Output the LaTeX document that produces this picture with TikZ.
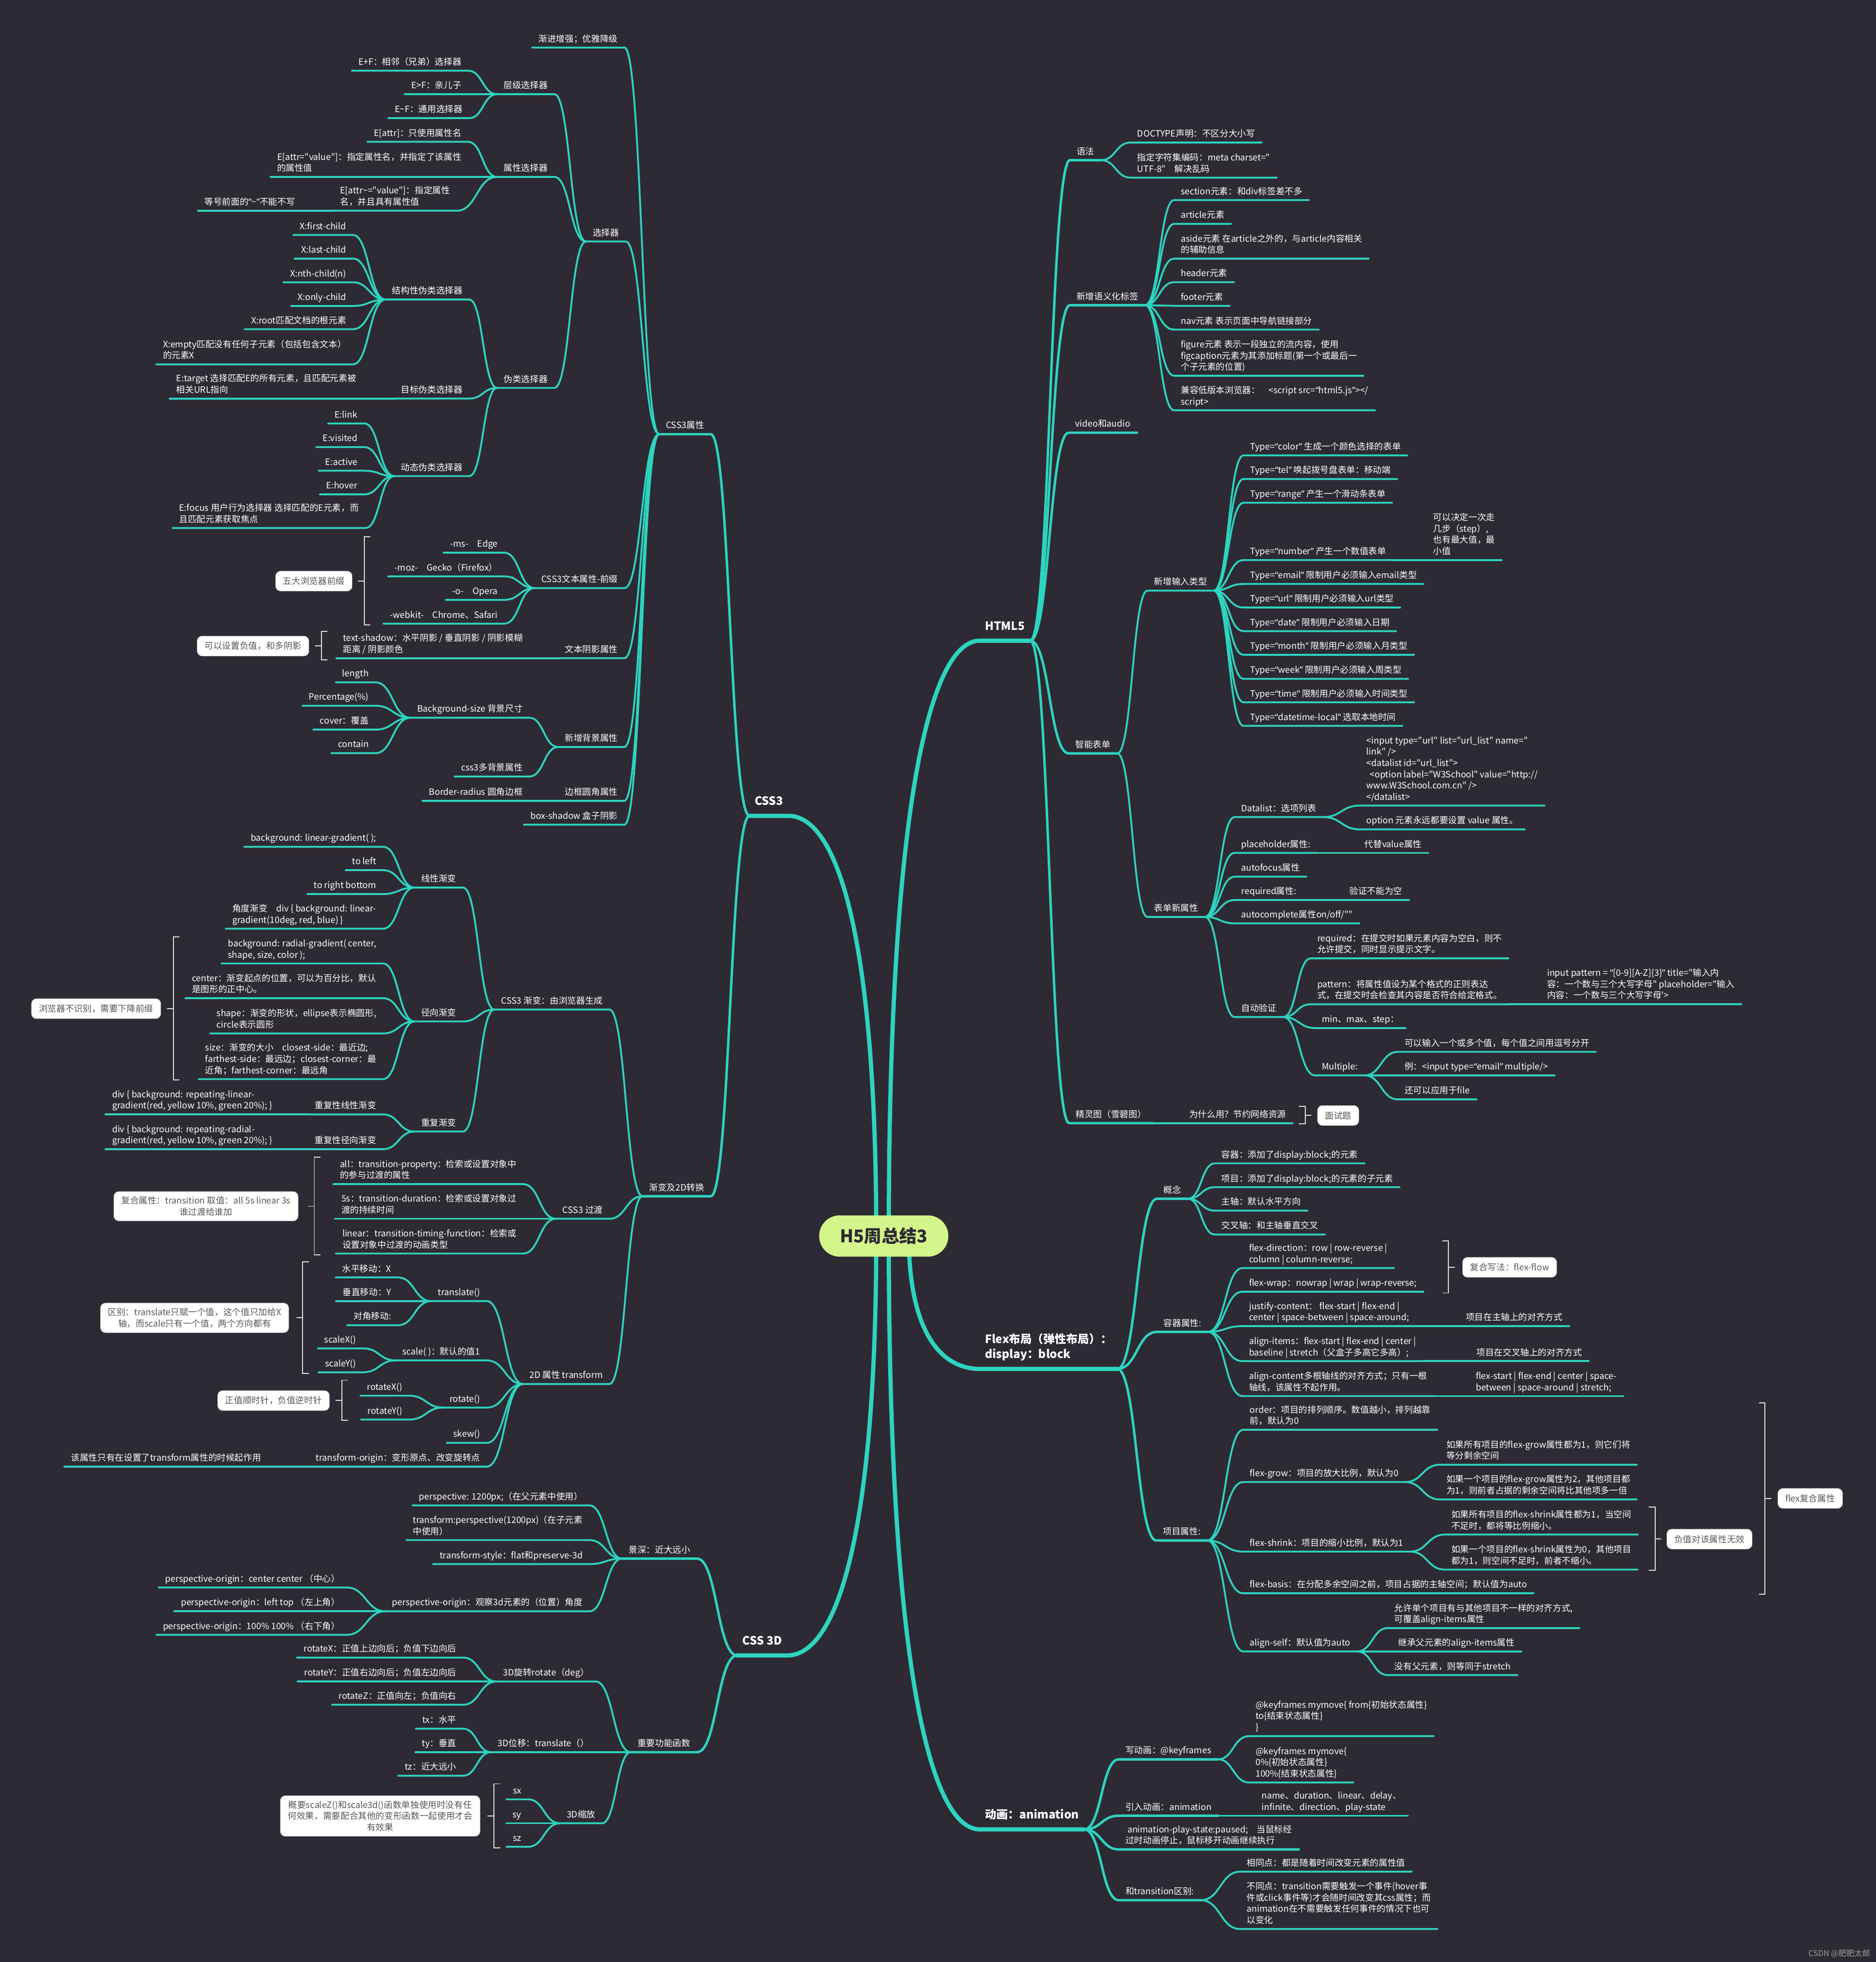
\documentclass[tikz,border=0pt]{standalone}
\usepackage{fontspec}
\setmainfont{Noto Sans CJK SC}
\newfontfamily\mapfont{Noto Sans CJK SC}
\newfontfamily\quotefont{Noto Sans}
\newcommand{\oq}{{\quotefont “}}
\newcommand{\cq}{{\quotefont ”}}
\usepackage{tikz}
\usetikzlibrary{calc}
\definecolor{mapBg}{HTML}{2E2A33}
\definecolor{mapTeal}{HTML}{2DD4BF}
\definecolor{rootFill}{HTML}{D3F58A}
\definecolor{noteText}{HTML}{555555}
\pgfdeclarelayer{bg}
\pgfsetlayers{bg,main}
\tikzset{
  trunk/.style={draw=mapTeal, line width=4.8pt, line cap=round, line join=round},
  bough/.style={draw=mapTeal, line width=2.8pt, line cap=round, line join=round},
  twig/.style={draw=mapTeal, line width=2.1pt, line cap=round, line join=round},
  fan/.style={to path={.. controls ($(\tikztostart)!0.5!(\tikztostart-|\tikztotarget)$) and ($(\tikztotarget)!0.5!(\tikztotarget-|\tikztostart)$) .. (\tikztotarget)}},
  mainfan/.style={to path={.. controls ($(\tikztostart)!0.72!(\tikztostart|-\tikztotarget)$) and ($(\tikztotarget)!0.55!(\tikztotarget-|\tikztostart)$) .. (\tikztotarget)}},
  leaf/.style={text=white, font=\mapfont\fontsize{10}{12.8}\selectfont, align=left, inner xsep=0.26cm, inner ysep=4.7pt, text depth=1.5pt},
  lside/.style={leaf, anchor=south east},
  rside/.style={leaf, anchor=south west},
  topic/.style={text=white, font=\mapfont\fontsize{13}{17}\selectfont\bfseries, align=left, inner xsep=0.2cm, inner ysep=10.5pt, text depth=1.5pt},
  root/.style={fill=rootFill, rounded corners=0.82cm, minimum width=5.16cm, minimum height=1.65cm, text=mapBg, font=\mapfont\fontsize{20}{24}\selectfont\bfseries},
  note/.style={fill=white, draw=gray!60, rounded corners=0.2cm, text=noteText, font=\mapfont\fontsize{10}{12.8}\selectfont, align=center, inner xsep=0.3cm, inner ysep=0.2cm, minimum height=0.8cm},
  brace/.style={draw=white!88!black, line width=1.1pt}
}

\begin{document}
\begin{tikzpicture}[x=0.05cm,y=-0.05cm]
  \useasboundingbox (0,0) rectangle (1499,1568);
  \begin{pgfonlayer}{bg}
    \fill[mapBg] (0,0) rectangle (1499,1568);
  \end{pgfonlayer}

  \node[root] (h5) at (706.2,987.8) {H5周总结3};
  \coordinate (o1) at ($(h5.center)+(-6,0)$);
  \coordinate (o2) at ($(h5.center)+(4,0)$);
  \coordinate (o3) at ($(h5.center)+(20,0)$);

  \node[topic, anchor=south east] (css3) at (630,652) {CSS3};
  \node[topic, anchor=south east] (css3d) at (629,1323) {CSS 3D};
  \node[topic, anchor=south west] (html5) at (783,512) {HTML5};
  \node[topic, anchor=south west] (flex) at (783,1094) {Flex布局（弹性布局）：\\display：block};
  \node[topic, anchor=south west] (anim) at (783,1462) {动画：animation};

  \node[lside] (attr) at (568,347) {CSS3属性};
  \node[lside] (grad2d) at (568,956) {渐变及2D转换};
  \node[lside] (jianjin) at (499,38) {渐进增强；优雅降级};
  \node[lside] (sel) at (500,193) {选择器};
  \node[lside] (prefix) at (499,470) {CSS3文本属性-前缀};
  \node[lside] (tshadow) at (499,526) {文本阴影属性};
  \node[lside] (bgnew) at (499,597) {新增背景属性};
  \node[lside] (radius) at (499,640) {边框圆角属性};
  \node[lside] (boxsh) at (499,659) {box-shadow 盒子阴影};

  \node[lside] (level) at (443,75.3) {层级选择器};
  \node[lside] (attrsel) at (443,141.4) {属性选择器};
  \node[lside] (pseudo) at (443,310) {伪类选择器};
  \node[lside] (ef1) at (374,56.5) {E+F：相邻（兄弟）选择器};
  \node[lside] (ef2) at (374,75.3) {E>F：亲儿子};
  \node[lside] (ef3) at (375,94.4) {E\textasciitilde F：通用选择器};
  \node[lside] (at1) at (374,113.3) {E[attr]：只使用属性名};
  \node[lside] (at2) at (374,141.4) {E[attr="value"]：指定属性名，并指定了该属性\\的属性值};
  \node[lside] (at3) at (365,168.4) {E[attr\textasciitilde="value"]：指定属性\\名，并且具有属性值};
  \node[lside] (at3n) at (241,168.4) {等号前面的\oq\textasciitilde\cq 不能不写};
  \node[lside] (struct) at (375,239.4) {结构性伪类选择器};
  \node[lside] (target) at (375,318.5) {目标伪类选择器};
  \node[lside] (dyn) at (375,380.5) {动态伪类选择器};
  \foreach \i/\y/\t in {1/187.8/{X:first-child},2/206.7/{X:last-child},3/225.6/{X:nth-child(n)},4/244.5/{X:only-child},5/263.1/{X:root匹配文档的根元素}}
    \node[lside] (x\i) at (282,\y) {\t};
  \node[lside] (x6) at (282,291.2) {X:empty匹配没有任何子元素（包括包含文本）\\的元素X};
  \node[lside] (tgtn) at (290,318.5) {E:target 选择匹配E的所有元素，且匹配元素被\\相关URL指向};
  \foreach \i/\y/\t in {1/338.4/{E:link},2/357.3/{E:visited},3/376.2/{E:active},4/395.1/{E:hover}}
    \node[lside] (e\i) at (291,\y) {\t};
  \node[lside] (e5) at (292,422) {E:focus 用户行为选择器 选择匹配的E元素，而\\且匹配元素获取焦点};

  \node[lside] (p1) at (403,441.7) {-ms-\quad Edge};
  \node[lside] (p2) at (403,460.6) {-moz-\quad Gecko（Firefox）};
  \node[lside] (p3) at (403,479.4) {-o-\quad Opera};
  \node[lside] (p4) at (403,498.4) {-webkit-\quad Chrome、Safari};
  \node[lside] (tsn) at (423,526) {text-shadow：水平阴影 / 垂直阴影 / 阴影模糊\\距离 / 阴影颜色};
  \node[lside] (bgsize) at (423,573.6) {Background-size 背景尺寸};
  \node[lside] (multibg) at (423,620.6) {css3多背景属性};
  \node[lside] (len) at (300,545.3) {length};
  \node[lside] (pct) at (300,564) {Percentage(\%)};
  \node[lside] (cover) at (300,583.1) {cover：覆盖};
  \node[lside] (contain) at (300,601.9) {contain};
  \node[lside] (radn) at (423,640) {Border-radius 圆角边框};

  \node[lside] (grad) at (487,806.8) {CSS3 渐变：由浏览器生成};
  \node[lside] (trans) at (487,974) {CSS3 过渡};
  \node[lside] (t2d) at (487,1106.1) {2D 属性 transform};
  \node[lside] (lin) at (370,709.3) {线性渐变};
  \node[lside] (rad) at (370,816.3) {径向渐变};
  \node[lside] (rep) at (370,904.3) {重复渐变};
  \node[lside] (lg1) at (306,676.7) {background: linear-gradient( );};
  \node[lside] (lg2) at (306,695.4) {to left};
  \node[lside] (lg3) at (306,714.5) {to right bottom};
  \node[lside] (lg4) at (306,742.2) {角度渐变\quad div \{ background: linear-\\gradient(10deg, red, blue) \}};
  \node[lside] (rg1) at (306,770) {background: radial-gradient( center,\\shape, size, color );};
  \node[lside] (rg2) at (306,797.7) {center：渐变起点的位置，可以为百分比，默认\\是图形的正中心。};
  \node[lside] (rg3) at (306,825.9) {shape：渐变的形状，ellipse表示椭圆形,\\circle表示圆形};
  \node[lside] (rg4) at (306,862.4) {size：渐变的大小\quad closest-side：最近边;\\farthest-side：最远边；closest-corner：最\\近角；farthest-corner：最远角};
  \node[lside] (rep1) at (306,890.6) {重复性线性渐变};
  \node[lside] (rep1n) at (223,890.6) {div \{ background: repeating-linear-\\gradient(red, yellow 10\%, green 20\%); \}};
  \node[lside] (rep2) at (306,918.4) {重复性径向渐变};
  \node[lside] (rep2n) at (223,918.4) {div \{ background: repeating-radial-\\gradient(red, yellow 10\%, green 20\%); \}};
  \node[lside] (gd1) at (418,946.3) {all：transition-property：检索或设置对象中\\的参与过渡的属性};
  \node[lside] (gd2) at (418,974) {5s：transition-duration：检索或设置对象过\\渡的持续时间};
  \node[lside] (gd3) at (418,1001.8) {linear：transition-timing-function：检索或\\设置对象中过渡的动画类型};
  \node[lside] (tr) at (389,1039.8) {translate()};
  \node[lside] (tr1) at (318,1020.9) {水平移动：X};
  \node[lside] (tr2) at (318,1039.8) {垂直移动：Y};
  \node[lside] (tr3) at (318,1059.1) {对角移动:};
  \node[lside] (sc) at (389,1087.2) {scale( )：默认的值1};
  \node[lside] (sc1) at (290,1077.6) {scaleX()};
  \node[lside] (sc2) at (290,1096.7) {scaleY()};
  \node[lside] (ro) at (389,1124.9) {rotate()};
  \node[lside] (ro1) at (327,1115.4) {rotateX()};
  \node[lside] (ro2) at (327,1134.5) {rotateY()};
  \node[lside] (sk) at (389,1153.1) {skew()};
  \node[lside] (tor) at (389,1172.1) {transform-origin：变形原点、改变旋转点};
  \node[lside] (torn) at (214,1172.1) {该属性只有在设置了transform属性的时候起作用};

  \node[lside] (jsh) at (557,1245.6) {景深：近大远小};
  \node[lside] (imp) at (557,1400.3) {重要功能函数};
  \node[lside] (js1) at (471,1203.1) {perspective: 1200px;（在父元素中使用）};
  \node[lside] (js2) at (471,1230.8) {transform:perspective(1200px)（在子元素\\中使用）};
  \node[lside] (js3) at (471,1250) {transform-style：flat和preserve-3d};
  \node[lside] (js4) at (471,1287.7) {perspective-origin：观察3d元素的（位置）角度};
  \node[lside] (po1) at (277,1268.7) {perspective-origin：center center （中心）};
  \node[lside] (po2) at (277,1287.7) {perspective-origin：left top （左上角）};
  \node[lside] (po3) at (277,1306.5) {perspective-origin：100\% 100\% （右下角）};
  \node[lside] (rot3) at (476,1343.8) {3D旋转rotate（deg）};
  \node[lside] (rt1) at (370,1324.7) {rotateX：正值上边向后；负值下边向后};
  \node[lside] (rt2) at (370,1343.8) {rotateY：正值右边向后；负值左边向后};
  \node[lside] (rt3) at (370,1362.4) {rotateZ：正值向左；负值向右};
  \node[lside] (mov3) at (476,1400.3) {3D位移：translate（）};
  \node[lside] (t1) at (370,1381.5) {tx：水平};
  \node[lside] (t2) at (370,1400.3) {ty：垂直};
  \node[lside] (t3) at (370,1419.1) {tz：近大远小};
  \node[lside] (scl3) at (481,1457.1) {3D缩放};
  \node[lside] (s1) at (422,1438) {sx};
  \node[lside] (s2) at (422,1457.1) {sy};
  \node[lside] (s3) at (422,1475.9) {sz};

  \node[rside] (gram) at (855,128) {语法};
  \node[rside] (gram1) at (903.5,113.9) {DOCTYPE声明：不区分大小写};
  \node[rside] (gram2) at (903.5,142) {指定字符集编码：meta charset="\\UTF-8"\quad 解决乱码};
  \node[rside] (sem) at (855,243.9) {新增语义化标签};
  \node[rside] (sem1) at (938.3,159.9) {section元素：和div标签差不多};
  \node[rside] (sem2) at (938.3,178.9) {article元素};
  \node[rside] (sem3) at (938.3,206.7) {aside元素 在article之外的，与article内容相关\\的辅助信息};
  \node[rside] (sem4) at (938.3,225.5) {header元素};
  \node[rside] (sem5) at (938.3,244.4) {footer元素};
  \node[rside] (sem6) at (938.3,263.4) {nav元素 表示页面中导航链接部分};
  \node[rside] (sem7) at (938.3,300.3) {figure元素 表示一段独立的流内容，使用\\figcaption元素为其添加标题(第一个或最后一\\个子元素的位置)};
  \node[rside] (sem8) at (938.3,327.9) {兼容低版本浏览器：\quad <script src=\oq html5.js\cq></\\script>};
  \node[rside] (media) at (854,345.8) {video和audio};
  \node[rside] (smart) at (854,602.1) {智能表单};
  \node[rside] (sprite) at (854.4,897.6) {精灵图（雪碧图）};
  \node[rside] (spriten) at (945,897.6) {为什么用？节约网络资源};

  \node[rside] (inp) at (917,472) {新增输入类型};
  \foreach \i/\y/\t/\d in {1/363.9/color/{生成一个颜色选择的表单},2/382.8/tel/{唤起拨号盘表单：移动端},3/401.8/range/{产生一个滑动条表单},4/447.6/number/{产生一个数值表单},5/466.7/email/{限制用户必须输入email类型},6/485.5/url/{限制用户必须输入url类型},7/504.4/date/{限制用户必须输入日期},8/523.3/month/{限制用户必须输入月类型},9/542.5/week/{限制用户必须输入周类型},10/561.3/time/{限制用户必须输入时间类型},11/580.1/datetime-local/{选取本地时间}}
    \node[rside] (ty\i) at (993.7,\y) {Type=\oq\t\cq\ \d};
  \node[rside] (ty4n) at (1140,447.6) {可以决定一次走\\几步（step）,\\也有最大值，最\\小值};

  \node[rside] (fnew) at (917,732.8) {表单新属性};
  \node[rside] (dl) at (986.6,653) {Datalist：选项列表};
  \node[rside] (dl1) at (1086.6,643.8) {<input type="url" list="url\_list" name="\\link" />\\<datalist id="url\_list">\\\hspace*{0.4em}<option label="W3School" value="http://\\www.W3School.com.cn" />\\</datalist>};
  \node[rside] (dl2) at (1086.6,662.8) {option 元素永远都要设置 value 属性。};
  \node[rside] (ph) at (986.6,681.6) {placeholder属性:};
  \node[rside] (phn) at (1085,681.6) {代替value属性};
  \node[rside] (afc) at (986.6,700.6) {autofocus属性};
  \node[rside] (req) at (986.6,719.3) {required属性:};
  \node[rside] (reqn) at (1073,719.3) {验证不能为空};
  \node[rside] (acpl) at (986.6,737.9) {autocomplete属性on/off/""};
  \node[rside] (autov) at (986.6,812.8) {自动验证};
  \node[rside] (av1) at (1047.3,765.9) {required：在提交时如果元素内容为空白，则不\\允许提交，同时显示提示文字。};
  \node[rside] (av2) at (1047.3,802.6) {pattern：将属性值设为某个格式的正则表达\\式，在提交时会检查其内容是否符合给定格式。};
  \node[rside] (av2n) at (1231,802.6) {input pattern = \oq[0-9][A-Z]\{3\}\cq\ title="输入内\\容：一个数与三个大写字母" placeholder="输入\\内容：一个数与三个大写字母'>};
  \node[rside] (av3) at (1050.9,821.6) {min、max、step：};
  \node[rside] (av4) at (1050.9,859.4) {Multiple:};
  \node[rside] (mu1) at (1117,840.6) {可以输入一个或多个值，每个值之间用逗号分开};
  \node[rside] (mu2) at (1117,859.4) {例：<input type=\oq email\cq\ multiple/>};
  \node[rside] (mu3) at (1117,878.6) {还可以应用于file};

  \node[rside] (cpt) at (924.5,958) {概念};
  \node[rside] (cpt1) at (970.8,929.7) {容器：添加了display:block;的元素};
  \node[rside] (cpt2) at (970.8,948.8) {项目：添加了display:block;的元素的子元素};
  \node[rside] (cpt3) at (970.8,967.5) {主轴：默认水平方向};
  \node[rside] (cpt4) at (970.8,986.6) {交叉轴：和主轴垂直交叉};
  \node[rside] (cprop) at (924.5,1064.4) {容器属性:};
  \node[rside] (fd) at (992.8,1013.4) {flex-direction：row | row-reverse |\\column | column-reverse;};
  \node[rside] (fw) at (992.8,1032.3) {flex-wrap：nowrap | wrap | wrap-reverse;};
  \node[rside] (jc) at (992.8,1059.8) {justify-content：\ flex-start | flex-end |\\center | space-between | space-around;};
  \node[rside] (jcn) at (1166,1059.8) {项目在主轴上的对齐方式};
  \node[rside] (ai) at (992.8,1087.8) {align-items：flex-start | flex-end | center |\\baseline | stretch（父盒子多高它多高）;};
  \node[rside] (ain) at (1174.5,1087.8) {项目在交叉轴上的对齐方式};
  \node[rside] (acnt) at (992.8,1115.7) {align-content多根轴线的对齐方式；只有一根\\轴线，该属性不起作用。};
  \node[rside] (acntn) at (1174,1115.7) {flex-start | flex-end | center | space-\\between | space-around | stretch;};
  \node[rside] (iprop) at (924,1231.1) {项目属性:};
  \node[rside] (od) at (993.5,1142.6) {order：项目的排列顺序。数值越小，排列越靠\\前，默认为0};
  \node[rside] (fg) at (993.5,1184.4) {flex-grow：项目的放大比例，默认为0};
  \node[rside] (fg1) at (1150.5,1170.6) {如果所有项目的flex-grow属性都为1，则它们将\\等分剩余空间};
  \node[rside] (fg2) at (1150.5,1198.3) {如果一个项目的flex-grow属性为2，其他项目都\\为1，则前者占据的剩余空间将比其他项多一倍};
  \node[rside] (fs) at (993.5,1240) {flex-shrink：项目的缩小比例，默认为1};
  \node[rside] (fs1) at (1154.5,1226.4) {如果所有项目的flex-shrink属性都为1，当空间\\不足时，都将等比例缩小。};
  \node[rside] (fs2) at (1154.5,1254.4) {如果一个项目的flex-shrink属性为0，其他项目\\都为1，则空间不足时，前者不缩小。};
  \node[rside] (fb) at (993.5,1273.3) {flex-basis：在分配多余空间之前，项目占据的主轴空间；默认值为auto};
  \node[rside] (aself) at (993.5,1319.8) {align-self：默认值为auto};
  \node[rside] (as1) at (1109,1301.1) {允许单个项目有与其他项目不一样的对齐方式,\\可覆盖align-items属性};
  \node[rside] (as2) at (1112,1319.8) {继承父元素的align-items属性};
  \node[rside] (as3) at (1109,1338.7) {没有父元素，则等同于stretch};

  \node[rside] (kfw) at (894,1406) {写动画：@keyframes};
  \node[rside] (kf1) at (998,1387.5) {@keyframes mymove\{ from\{初始状态属性\}\\to\{结束状态属性\}\\\}};
  \node[rside] (kf2) at (998,1424.5) {@keyframes mymove\{\\0\%\{初始状态属性\}\\100\%\{结束状态属性\}};
  \node[rside] (intro) at (894,1451.1) {引入动画：animation};
  \node[rside] (intron) at (1003,1451.1) {name、duration、linear、delay、\\infinite、direction、play-state};
  \node[rside] (pause) at (894,1478) {\ animation-play-state:paused;\quad 当鼠标经\\过时动画停止，鼠标移开动画继续执行};
  \node[rside] (diff) at (894,1518.6) {和transition区别:};
  \node[rside] (diff1) at (991,1495.8) {相同点：都是随着时间改变元素的属性值};
  \node[rside] (diff2) at (991,1541.6) {不同点：transition需要触发一个事件(hover事\\件或click事件等)才会随时间改变其css属性；而\\animation在不需要触发任何事件的情况下也可\\以变化};

  \node[note] (n1) at (250.8,464.4) {五大浏览器前缀};
  \node[note] (n2) at (202.2,516.3) {可以设置负值，和多阴影};
  \node[note] (n3) at (76.8,806.1) {浏览器不识别，需要下降前缀};
  \node[note] (n4) at (164.6,964) {复合属性：transition 取值：all 5s linear 3s\\谁过渡给谁加};
  \node[note] (n5) at (155.5,1053.2) {区别：translate只赋一个值，这个值只加给X\\轴，而scale只有一个值，两个方向都有};
  \node[note] (n6) at (218.6,1119.3) {正值顺时针，负值逆时针};
  \node[note] (n7) at (303.8,1451.3) {概要scaleZ()和scale3d()函数单独使用时没有任\\何效果，需要配合其他的变形函数一起使用才会\\有效果};
  \node[note] (n8) at (1069.3,891.5) {面试题};
  \node[note] (n9) at (1206.3,1012.8) {复合写法：flex-flow};
  \node[note] (n10) at (1366,1230) {负值对该属性无效};
  \node[note] (n11) at (1446.5,1197.5) {flex复合属性};
  \node[anchor=south east, text=gray!75, font=\mapfont\fontsize{9}{10}\selectfont, inner sep=2pt] (mark) at (1496,1566) {CSDN @肥肥太郎};

  \begin{pgfonlayer}{bg}
    \foreach \s/\t in {o1/css3,o1/css3d}
      \draw[trunk] (\s) to[mainfan] (\t.south east) -- (\t.south west);
    \foreach \s/\t in {o2/html5,o3/flex,o2/anim}
      \draw[trunk] (\s) to[mainfan] (\t.south west) -- (\t.south east);
  \end{pgfonlayer}

  \foreach \p/\c in {css3/attr,css3/grad2d,css3d/jsh,css3d/imp}
    \draw[bough] (\p.south west) to[fan] (\c.south east) -- (\c.south west);
  \foreach \p/\c in {html5/gram,html5/sem,html5/media,html5/smart,html5/sprite,flex/cpt,flex/cprop,flex/iprop,anim/kfw,anim/intro,anim/pause,anim/diff}
    \draw[bough] (\p.south east) to[fan] (\c.south west) -- (\c.south east);

  \foreach \p/\cs in {attr/{jianjin,sel,prefix,tshadow,bgnew,radius,boxsh},sel/{level,attrsel,pseudo},level/{ef1,ef2,ef3},attrsel/{at1,at2,at3},at3/{at3n},pseudo/{struct,target,dyn},struct/{x1,x2,x3,x4,x5,x6},target/{tgtn},dyn/{e1,e2,e3,e4,e5},prefix/{p1,p2,p3,p4},tshadow/{tsn},bgnew/{bgsize,multibg},bgsize/{len,pct,cover,contain},radius/{radn},grad2d/{grad,trans,t2d},grad/{lin,rad,rep},lin/{lg1,lg2,lg3,lg4},rad/{rg1,rg2,rg3,rg4},rep/{rep1,rep2},rep1/{rep1n},rep2/{rep2n},trans/{gd1,gd2,gd3},t2d/{tr,sc,ro,sk,tor},tr/{tr1,tr2,tr3},sc/{sc1,sc2},ro/{ro1,ro2},tor/{torn},jsh/{js1,js2,js3,js4},js4/{po1,po2,po3},imp/{rot3,mov3,scl3},rot3/{rt1,rt2,rt3},mov3/{t1,t2,t3},scl3/{s1,s2,s3}}
    \foreach \c in \cs
      \draw[twig] (\p.south west) to[fan] (\c.south east) -- (\c.south west);

  \foreach \p/\cs in {gram/{gram1,gram2},sem/{sem1,sem2,sem3,sem4,sem5,sem6,sem7,sem8},smart/{inp,fnew},inp/{ty1,ty2,ty3,ty4,ty5,ty6,ty7,ty8,ty9,ty10,ty11},ty4/{ty4n},fnew/{dl,ph,afc,req,acpl,autov},dl/{dl1,dl2},ph/{phn},req/{reqn},autov/{av1,av2,av3,av4},av2/{av2n},av4/{mu1,mu2,mu3},sprite/{spriten},cpt/{cpt1,cpt2,cpt3,cpt4},cprop/{fd,fw,jc,ai,acnt},jc/{jcn},ai/{ain},acnt/{acntn},iprop/{od,fg,fs,fb,aself},fg/{fg1,fg2},fs/{fs1,fs2},aself/{as1,as2,as3},kfw/{kf1,kf2},intro/{intron},diff/{diff1,diff2}}
    \foreach \c in \cs
      \draw[twig] (\p.south east) to[fan] (\c.south west) -- (\c.south east);

  \foreach \x/\a/\b/\n in {291/428.9/499.3/n1,256.7/504.5/527.2/n2,138.5/748.8/863.2/n3,251.1/924.7/1002.7/n4,241.9/1008.3/1097.5/n5,273.1/1103/1135.2/n6,394.7/1425.6/1476.9/n7}
    \draw[brace] (\x+5,\a) -- (\x,\a) -- (\x,\b) -- (\x+5,\b) (\x,0 |- \n.east) -- ++(-5,0);
  \foreach \x/\a/\b/\n in {1043/884.3/898/n8,1157.5/991.7/1033.3/n9,1322.5/1204.5/1255.1/n10,1410.3/1121.1/1274.1/n11}
    \draw[brace] (\x-5,\a) -- (\x,\a) -- (\x,\b) -- (\x-5,\b) (\x,0 |- \n.west) -- ++(5,0);
\end{tikzpicture}
\end{document}
